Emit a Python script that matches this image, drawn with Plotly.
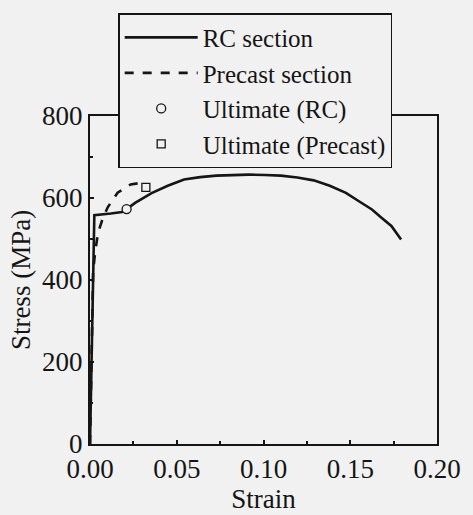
import plotly.graph_objects as go

# RC section curve (strain, stress in MPa)
rc_strain = [0.0, 0.0025, 0.012, 0.0185, 0.0215, 0.026, 0.0355, 0.0448, 0.0542, 0.0635,
             0.0728, 0.0822, 0.0915, 0.1008, 0.110, 0.1195, 0.1289, 0.1382, 0.1475,
             0.155, 0.1625, 0.168, 0.1737, 0.1793]
rc_stress = [0, 558, 562, 566, 574, 588, 612, 630, 645, 651,
             654.5, 656, 657, 656, 654.5, 650, 643, 630, 612.6,
             592, 572, 552, 532, 499]

# Precast section curve
pc_strain = [0.0, 0.0018, 0.003, 0.0047, 0.0075, 0.0103, 0.0159, 0.0234, 0.028, 0.0322]
pc_stress = [0, 420, 470, 516, 552, 578, 613, 633, 636, 626]

# Ultimate points
ult_rc = (0.0211, 573)
ult_pc = (0.0322, 626)

names = ["RC section", "Precast section", "Ultimate (RC)", "Ultimate (Precast)"]

bg = "#f1f1f1"
ink = "#151515"
font = "Liberation Serif"

fig = go.Figure()
fig.add_trace(go.Scatter(x=rc_strain, y=rc_stress, mode="lines", name=names[0],
                         line=dict(color=ink, width=2.6)))
fig.add_trace(go.Scatter(x=pc_strain, y=pc_stress, mode="lines", name=names[1],
                         line=dict(color=ink, width=2.6, dash="dash")))
fig.add_trace(go.Scatter(x=[ult_rc[0]], y=[ult_rc[1]], mode="markers", name=names[2],
                         marker=dict(symbol="circle", size=9, color=bg,
                                     line=dict(color=ink, width=1.3))))
fig.add_trace(go.Scatter(x=[ult_pc[0]], y=[ult_pc[1]], mode="markers", name=names[3],
                         marker=dict(symbol="square", size=8, color=bg,
                                     line=dict(color=ink, width=1.3))))

axis_common = dict(showline=True, linecolor=ink, linewidth=2, mirror=True,
                   showgrid=False, zeroline=False, ticks="inside", ticklen=4,
                   tickwidth=1.5, tickcolor=ink,
                   tickfont=dict(family=font, size=27, color=ink))

fig.update_xaxes(range=[0, 0.2], tickvals=[0, 0.05, 0.10, 0.15, 0.20],
                 ticktext=["0.00", "0.05", "0.10", "0.15", "0.20"],
                 minor=dict(tickvals=[0.025, 0.075, 0.125, 0.175], ticks="inside",
                            ticklen=3, tickcolor=ink, tickwidth=1.5),
                 title=dict(text="Strain", font=dict(family=font, size=27, color=ink), standoff=0),
                 **axis_common)
fig.update_yaxes(range=[0, 800], tickvals=[0, 200, 400, 600, 800],
                 minor=dict(tickvals=[100, 300, 500, 700], ticks="inside",
                            ticklen=3, tickcolor=ink, tickwidth=1.5),
                 title=dict(text="Stress (MPa)", font=dict(family=font, size=27, color=ink), standoff=4),
                 **axis_common)

fig.update_layout(
    width=473, height=515,
    margin=dict(l=90, r=26, t=116, b=69),
    paper_bgcolor=bg, plot_bgcolor=bg,
    showlegend=True,
    legend=dict(x=29 / 357, y=1 + (116 - 12.5) / 330, xanchor="left", yanchor="top",
                bgcolor=bg, bordercolor=ink, borderwidth=1.5,
                font=dict(family=font, size=25, color=ink),
                itemwidth=73, tracegroupgap=0),
    font=dict(family=font, color=ink),
)

fig.write_html("out.html")
